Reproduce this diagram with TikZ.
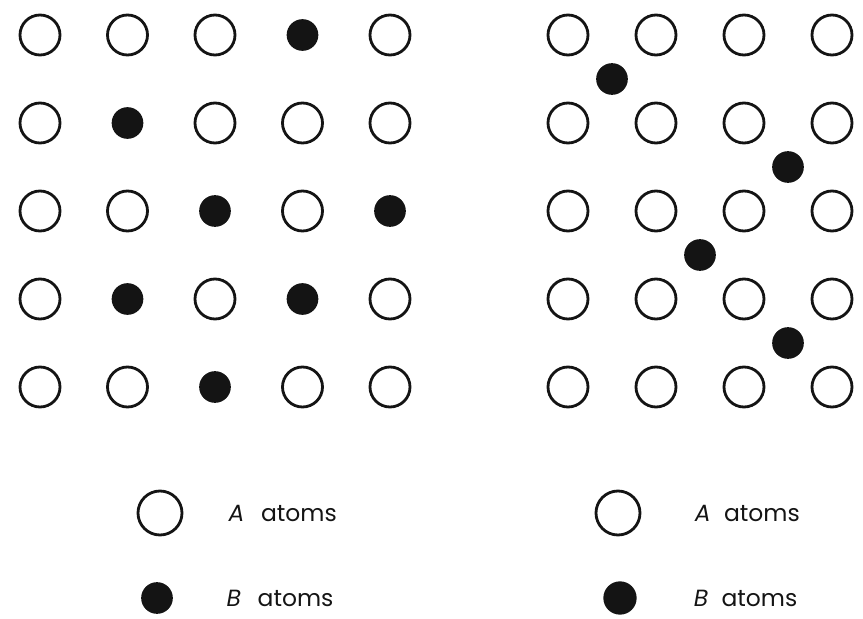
\documentclass[tikz,border=0pt]{standalone}
\usepackage{fontspec}
\setmainfont{Poppins}
\usepackage{xcolor}
\usepackage{tikz}
\usetikzlibrary{positioning,calc}
\definecolor{latticeInk}{HTML}{141414}
\tikzset{
    lattice/A atom/.style={
        circle, draw=latticeInk, line width=2.4pt,
        minimum size=1.2cm, inner sep=0pt
    },
    lattice/B atom/.style={
        circle, fill=latticeInk,
        minimum size=0.95cm, inner sep=0pt
    },
    lattice/key text/.style={
        font=\fontsize{20}{24}\selectfont, text=latticeInk,
        inner sep=0pt
    }
}

\begin{document}
\begin{tikzpicture}[x=0.03cm, y=-0.03cm]
    \useasboundingbox (0,0) rectangle (863,619);

    % substitutional solid solution
    \node[lattice/A atom] (s11) at (40,35) {};
    \node[lattice/A atom] (s12) at (127.5,35) {};
    \node[lattice/A atom] (s13) at (215,35) {};
    \node[lattice/B atom] (s14) at (302.5,35) {};
    \node[lattice/A atom] (s15) at (390,35) {};
    \node[lattice/A atom] (s21) at (40,123) {};
    \node[lattice/B atom] (s22) at (127.5,123) {};
    \node[lattice/A atom] (s23) at (215,123) {};
    \node[lattice/A atom] (s24) at (302.5,123) {};
    \node[lattice/A atom] (s25) at (390,123) {};
    \node[lattice/A atom] (s31) at (40,211) {};
    \node[lattice/A atom] (s32) at (127.5,211) {};
    \node[lattice/B atom] (s33) at (215,211) {};
    \node[lattice/A atom] (s34) at (302.5,211) {};
    \node[lattice/B atom] (s35) at (390,211) {};
    \node[lattice/A atom] (s41) at (40,299) {};
    \node[lattice/B atom] (s42) at (127.5,299) {};
    \node[lattice/A atom] (s43) at (215,299) {};
    \node[lattice/B atom] (s44) at (302.5,299) {};
    \node[lattice/A atom] (s45) at (390,299) {};
    \node[lattice/A atom] (s51) at (40,387) {};
    \node[lattice/A atom] (s52) at (127.5,387) {};
    \node[lattice/B atom] (s53) at (215,387) {};
    \node[lattice/A atom] (s54) at (302.5,387) {};
    \node[lattice/A atom] (s55) at (390,387) {};

    % interstitial solid solution
    \foreach \row/\y in {1/35,2/123,3/211,4/299,5/387} {
        \foreach \col/\x in {1/568,2/656,3/744,4/832} {
            \node[lattice/A atom] (i\row\col) at (\x,\y) {};
        }
    }
    \node[lattice/B atom] (gap1) at ($(i11)!0.5!(i22)$) {};
    \node[lattice/B atom] (gap2) at ($(i23)!0.5!(i34)$) {};
    \node[lattice/B atom] (gap3) at ($(i32)!0.5!(i43)$) {};
    \node[lattice/B atom] (gap4) at ($(i43)!0.5!(i54)$) {};

    % keys
    \node[lattice/A atom, minimum size=1.32cm] (keyAleft) at (160,513) {};
    \node[lattice/key text, right=1.35cm of keyAleft]
        {\textit{A}\hspace{0.5cm}atoms};
    \node[lattice/B atom, minimum size=0.95cm] (keyBleft) at (157,598) {};
    \node[lattice/key text, right=1.6cm of keyBleft]
        {\textit{B}\hspace{0.5cm}atoms};
    \node[lattice/A atom, minimum size=1.32cm] (keyAright) at (618,513) {};
    \node[lattice/key text, right=1.6cm of keyAright]
        {\textit{A}\hspace{0.4cm}atoms};
    \node[lattice/B atom, minimum size=1.0cm] (keyBright) at (620,598) {};
    \node[lattice/key text, right=1.7cm of keyBright]
        {\textit{B}\hspace{0.4cm}atoms};
\end{tikzpicture}
\end{document}
